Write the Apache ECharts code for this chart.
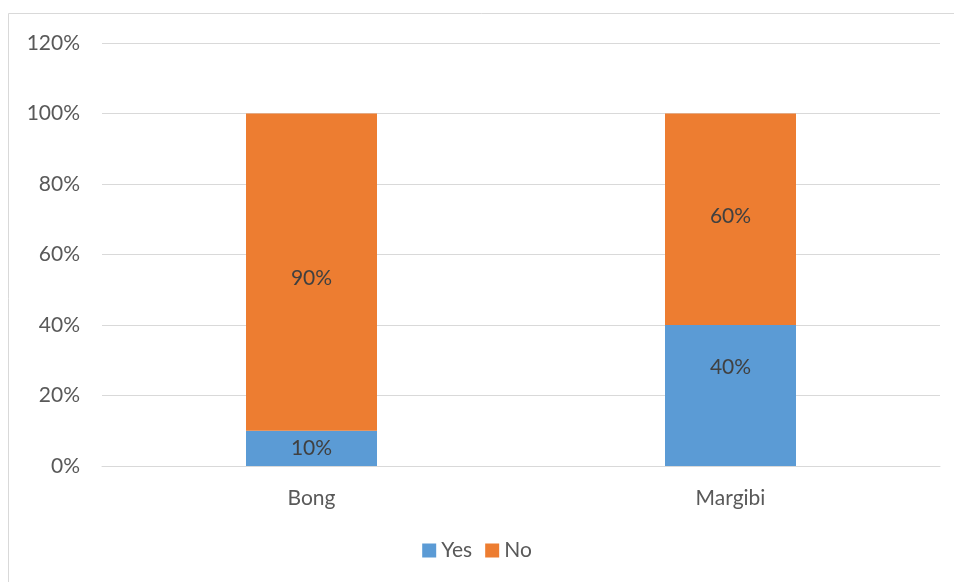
<!DOCTYPE html>
<html>
<head>
<meta charset="utf-8">
<script src="https://cdn.jsdelivr.net/npm/echarts@6/dist/echarts.min.js"></script>
<style>
  html, body { margin: 0; padding: 0; background: #fff; }
  #chart { width: 954px; height: 582px; }
</style>
</head>
<body>
<div id="chart"></div>
<script>
// Share of respondents per county, in percent
const counties = ['Bong', 'Margibi'];
const yesValues = [10, 40];
const noValues = [90, 60];
const seriesNames = ['Yes', 'No'];
const yTicks = [0, 20, 40, 60, 80, 100, 120];

// vertical nudges for the in-bar labels
const yesLabelShift = [0, -28];
const noLabelShift = [6, -3];

const font = 'Lato, "Open Sans", "Liberation Sans", sans-serif';
const textColor = '#595959';
const fontSize = 21;

const chart = echarts.init(document.getElementById('chart'), null, { renderer: 'canvas' });

const labelStyle = {
  show: true,
  position: 'inside',
  formatter: p => p.value + '%',
  color: '#404040',
  fontSize: fontSize,
  fontFamily: font
};

const withShift = (values, shifts) =>
  values.map((v, i) => ({ value: v, label: { offset: [0, shifts[i]] } }));

chart.setOption({
  animation: false,
  backgroundColor: '#fff',
  graphic: [{
    type: 'rect',
    shape: { x: 8.5, y: 13.5, width: 1000, height: 1000 },
    style: { fill: 'none', stroke: '#d9d9d9', lineWidth: 1 }
  }],
  grid: { left: 102, right: 14, top: 43, bottom: 116 },
  legend: {
    data: seriesNames,
    bottom: 16,
    left: 'center',
    icon: 'rect',
    itemWidth: 14,
    itemHeight: 14,
    itemGap: 13,
    textStyle: { color: textColor, fontSize: fontSize, fontFamily: font }
  },
  xAxis: {
    type: 'category',
    data: counties,
    axisLine: { lineStyle: { color: '#d9d9d9', width: 1 } },
    axisTick: { show: false },
    axisLabel: { color: textColor, fontSize: fontSize, fontFamily: font, margin: 22 }
  },
  yAxis: {
    type: 'value',
    min: yTicks[0],
    max: yTicks[yTicks.length - 1],
    interval: 20,
    axisLine: { show: false },
    axisTick: { show: false },
    splitLine: { lineStyle: { color: '#d9d9d9', width: 1 } },
    axisLabel: {
      color: textColor, fontSize: fontSize, fontFamily: font, margin: 22,
      formatter: v => v + '%'
    }
  },
  series: [
    {
      name: seriesNames[0],
      type: 'bar',
      stack: 'total',
      data: withShift(yesValues, yesLabelShift),
      barWidth: 131,
      itemStyle: { color: '#5b9bd5' },
      label: labelStyle
    },
    {
      name: seriesNames[1],
      type: 'bar',
      stack: 'total',
      data: withShift(noValues, noLabelShift),
      barWidth: 131,
      itemStyle: { color: '#ed7d31' },
      label: labelStyle
    }
  ]
});
</script>
</body>
</html>
